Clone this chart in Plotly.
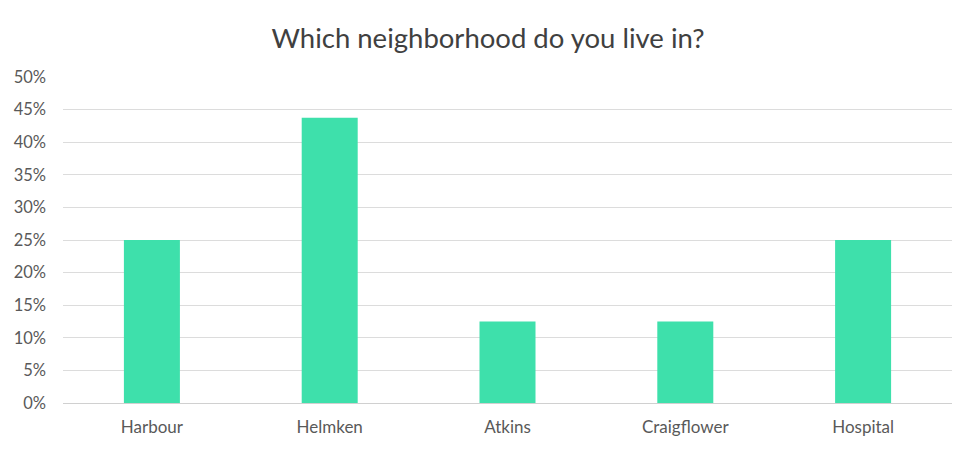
import plotly.graph_objects as go

categories = ["Harbour", "Helmken", "Atkins", "Craigflower", "Hospital"]
values = [0.25, 0.4375, 0.125, 0.125, 0.25]
tick_vals = [0, 0.05, 0.10, 0.15, 0.20, 0.25, 0.30, 0.35, 0.40, 0.45, 0.50]
tick_text = ["0%", "5%", "10%", "15%", "20%", "25%", "30%", "35%", "40%", "45%", "50%"]

fig = go.Figure(go.Bar(
    x=categories, y=values,
    marker=dict(color="#3ee0ab", line=dict(width=0)),
))

fig.update_layout(
    width=976, height=451,
    margin=dict(l=63, r=24, t=77, b=48),
    paper_bgcolor="white", plot_bgcolor="white",
    bargap=0.685,
    font=dict(family="Lato", color="#595959", size=16),
    title=dict(text="Which neighborhood do you live in?", x=0.5, xanchor="center",
               y=0.915, yanchor="middle",
               font=dict(family="Lato", size=27.5, color="#404040")),
    showlegend=False,
)
fig.update_yaxes(range=[0, 0.5], tickvals=tick_vals, ticktext=tick_text,
                 showgrid=True, gridcolor="#dcdcdc", gridwidth=1,
                 zeroline=True, zerolinecolor="#d0d0d0", zerolinewidth=1,
                 ticks="", ticklabelstandoff=16, showline=False,
                 tickfont=dict(size=16.5))
fig.update_xaxes(showgrid=False, ticks="", showline=False, ticklabelstandoff=12,
                 tickfont=dict(size=17))

fig.write_html("out.html")
